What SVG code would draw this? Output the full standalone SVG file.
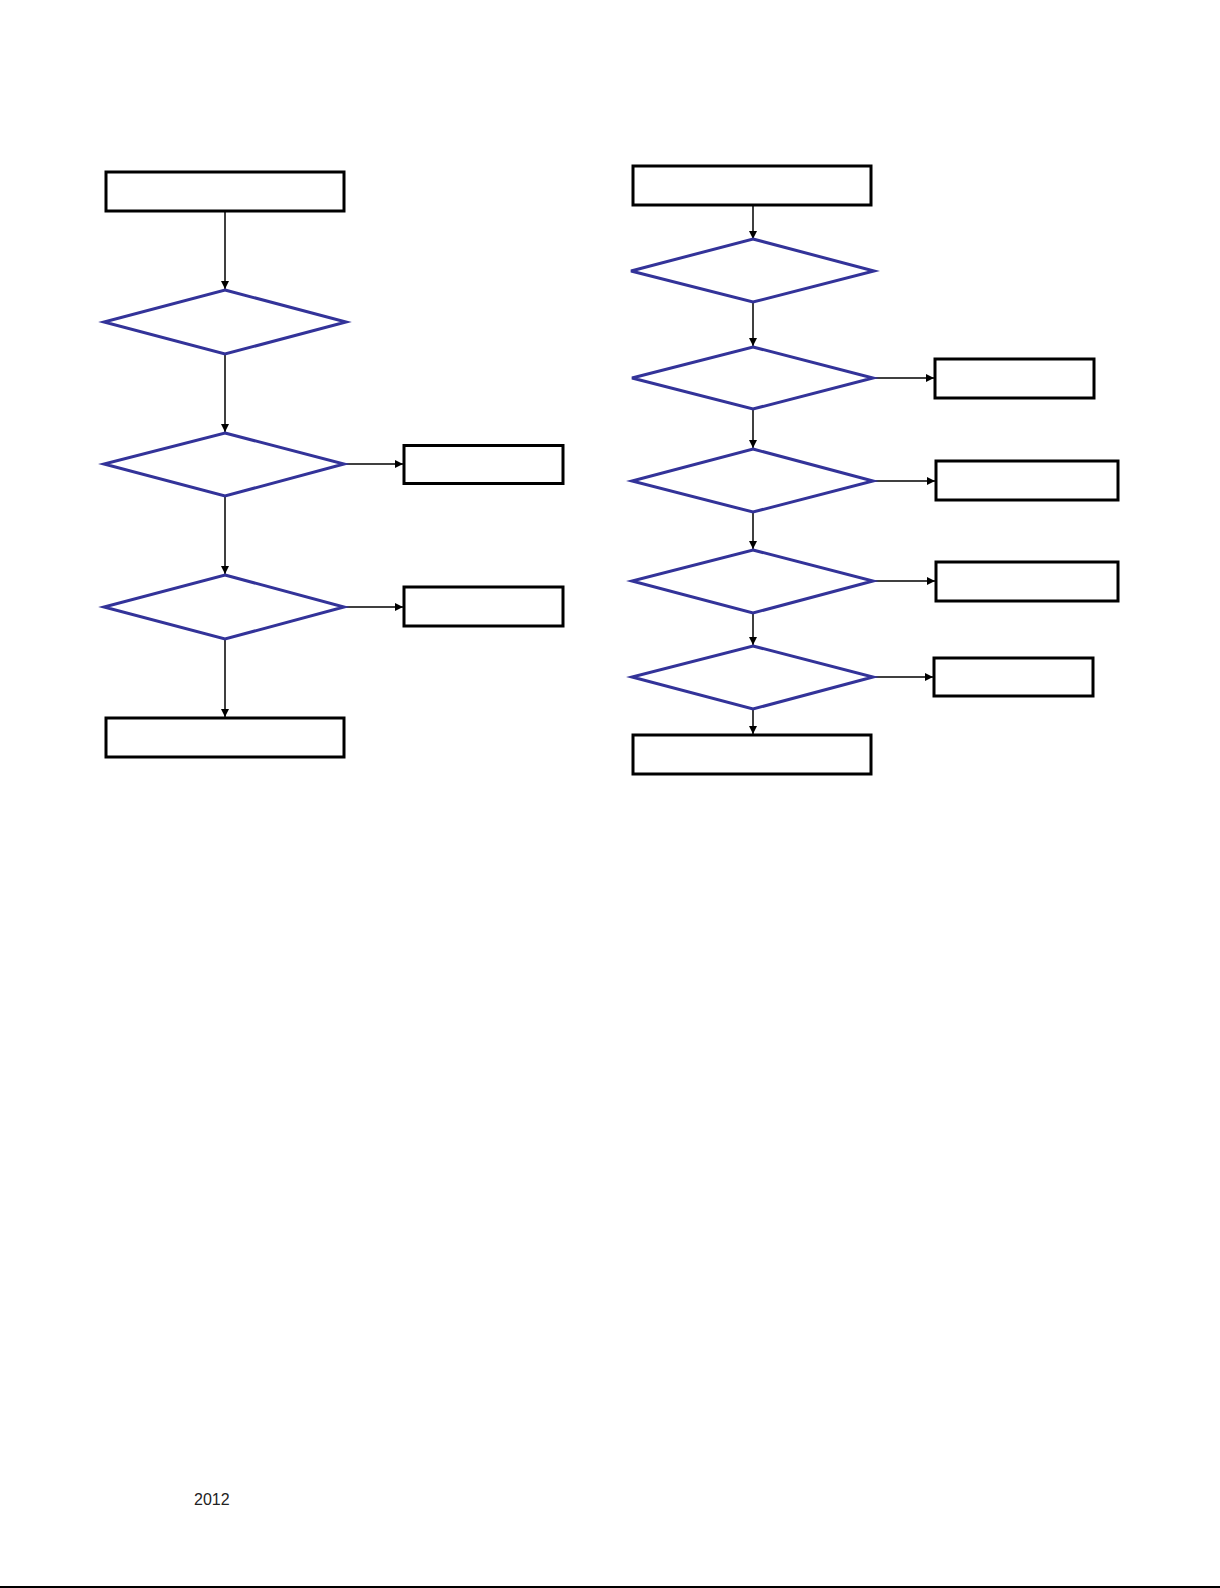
<svg xmlns="http://www.w3.org/2000/svg" width="1220" height="1588" viewBox="0 0 1220 1588">
<style>
.box{fill:#fff;stroke:#000;stroke-width:3}
.dia{fill:#fff;stroke:#333399;stroke-width:3;stroke-linejoin:miter}
.con{fill:none;stroke:#000;stroke-width:1.5;marker-end:url(#ah)}
.txt{font-family:"Liberation Sans",Arial,sans-serif;font-size:16px;fill:#222}
</style>
<defs>
<marker id="ah" viewBox="0 0 10 10" refX="10" refY="5" markerWidth="9" markerHeight="8" markerUnits="userSpaceOnUse" orient="auto">
<path d="M0,0 L10,5 L0,10 z" fill="#000"/>
</marker>
</defs>
<rect width="1220" height="1588" fill="#fff"/>
<g id="connectors">
<path class="con" d="M225,212 L225,289"/>
<path class="con" d="M225,354 L225,432"/>
<path class="con" d="M225,496 L225,574"/>
<path class="con" d="M225,639 L225,717"/>
<path class="con" d="M344,464 L403,464"/>
<path class="con" d="M344,607 L403,607"/>
<path class="con" d="M753,206 L753,239"/>
<path class="con" d="M753,302 L753,346"/>
<path class="con" d="M753,409 L753,448"/>
<path class="con" d="M753,512 L753,549"/>
<path class="con" d="M753,613 L753,645"/>
<path class="con" d="M753,709 L753,734"/>
<path class="con" d="M873,378 L934,378"/>
<path class="con" d="M873,481 L935,481"/>
<path class="con" d="M873,581 L935,581"/>
<path class="con" d="M873,677 L933,677"/>
</g>
<g id="n1"><rect class="box" x="106" y="172" width="238" height="39"/></g>
<g id="n2"><polygon class="dia" points="225,290 346,322 225,354 104,322"/></g>
<g id="n3"><polygon class="dia" points="225,433 344,464 225,496 104,464"/></g>
<g id="n4"><rect class="box" x="404" y="445.5" width="159" height="38"/></g>
<g id="n5"><polygon class="dia" points="225,575 344,607 225,639 104,607"/></g>
<g id="n6"><rect class="box" x="404" y="587" width="159" height="39"/></g>
<g id="n7"><rect class="box" x="106" y="718" width="238" height="39"/></g>
<g id="m1"><rect class="box" x="633" y="166" width="238" height="39"/></g>
<g id="m2"><polygon class="dia" points="753,239 874,271 753,302 631,271"/></g>
<g id="m3"><polygon class="dia" points="753,347 873,378 753,409 632,378"/></g>
<g id="m4"><rect class="box" x="935" y="359" width="159" height="39"/></g>
<g id="m5"><polygon class="dia" points="753,449 873,481 753,512 632,481"/></g>
<g id="m6"><rect class="box" x="936" y="461" width="182" height="39"/></g>
<g id="m7"><polygon class="dia" points="753,550 873,581 753,613 632,581"/></g>
<g id="m8"><rect class="box" x="936" y="562" width="182" height="39"/></g>
<g id="m9"><polygon class="dia" points="753,646 873,677 753,709 632,677"/></g>
<g id="m10"><rect class="box" x="934" y="658" width="159" height="38"/></g>
<g id="m11"><rect class="box" x="633" y="735" width="238" height="39"/></g>
<text class="txt" x="194" y="1505">2012</text>
<line x1="0" y1="1587" x2="1220" y2="1587" stroke="#000" stroke-width="2"/>
</svg>
